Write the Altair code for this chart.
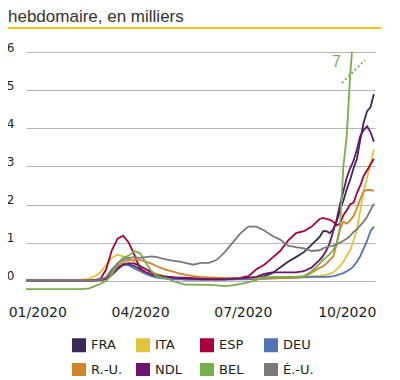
import altair as alt
import pandas as pd

title_text = "hebdomaire, en milliers"
countries = ["FRA", "ITA", "ESP", "DEU", "R.-U.", "NDL", "BEL", "É.-U."]
colors = ["#3a2858", "#e0c53c", "#a8003c", "#5274b4", "#d0852a", "#6a1570", "#78ae4c", "#7a7a7a"]

# day offsets from 2020-01-01
day_offsets = [-10, -3, 4, 11, 18, 25, 32, 39,
               46, 51, 56, 61, 66, 71, 76, 81, 86, 91, 96, 101, 106, 111, 116, 121, 126, 131,
               138, 145, 152, 159, 166, 173, 180, 187, 194, 201, 208, 215, 222, 229, 236, 243, 250,
               253, 256, 259, 262, 265, 268, 271, 274, 277, 280, 283, 286, 289, 292, 295, 298]

fra = [0, 0, 0, 0, 0, 0, 0, 0,
       0, 0.01, 0.02, 0.06, 0.2, 0.35, 0.42, 0.43, 0.38, 0.3, 0.22, 0.15, 0.1, 0.08, 0.06, 0.05, 0.05, 0.04,
       0.04, 0.04, 0.04, 0.04, 0.04, 0.05, 0.05, 0.06, 0.08, 0.12, 0.2, 0.35, 0.5, 0.62, 0.75, 0.95, 1.15,
       1.3, 1.3, 1.25, 1.35, 1.55, 1.85, 2.1, 2.4, 2.65, 2.95, 3.2, 3.7, 4.15, 4.45, 4.55, 4.9]
ita = [0, 0, 0, 0, 0, 0, 0, 0.02,
       0.05, 0.12, 0.22, 0.42, 0.6, 0.68, 0.64, 0.58, 0.5, 0.4, 0.32, 0.24, 0.18, 0.14, 0.1, 0.08, 0.07, 0.06,
       0.05, 0.04, 0.04, 0.04, 0.04, 0.05, 0.06, 0.07, 0.08, 0.08, 0.09, 0.1, 0.1, 0.1, 0.11, 0.12, 0.13,
       0.14, 0.16, 0.18, 0.22, 0.3, 0.38, 0.5, 0.65, 0.8, 1.05, 1.35, 1.85, 2.35, 2.7, 3.05, 3.45]
esp = [0, 0, 0, 0, 0, 0, 0, 0,
       0, 0.02, 0.05, 0.3, 0.8, 1.1, 1.18, 1.0, 0.68, 0.32, 0.22, 0.16, 0.12, 0.1, 0.1, 0.09, 0.08, 0.08,
       0.07, 0.06, 0.06, 0.06, 0.06, 0.07, 0.08, 0.12, 0.3, 0.42, 0.6, 0.78, 1.05, 1.25, 1.3, 1.42, 1.62,
       1.65, 1.62, 1.6, 1.55, 1.45, 1.5, 1.72, 1.85, 2.0, 2.05, 2.3, 2.5, 2.75, 2.9, 3.05, 3.2]
deu = [0, 0, 0, 0, 0, 0, 0, 0,
       0, 0.01, 0.03, 0.08, 0.25, 0.4, 0.45, 0.4, 0.32, 0.25, 0.18, 0.12, 0.08, 0.06, 0.05, 0.04, 0.04, 0.03,
       0.03, 0.03, 0.03, 0.03, 0.03, 0.03, 0.04, 0.04, 0.05, 0.05, 0.06, 0.07, 0.07, 0.08, 0.09, 0.1, 0.1,
       0.1, 0.1, 0.11, 0.12, 0.14, 0.17, 0.2, 0.25, 0.3, 0.38, 0.5, 0.65, 0.85, 1.05, 1.3, 1.42]
gbr = [0, 0, 0, 0, 0, 0, 0, 0,
       0, 0.01, 0.02, 0.05, 0.2, 0.38, 0.48, 0.54, 0.55, 0.55, 0.5, 0.45, 0.38, 0.32, 0.27, 0.23, 0.19, 0.16,
       0.12, 0.1, 0.09, 0.08, 0.07, 0.07, 0.07, 0.07, 0.07, 0.07, 0.06, 0.07, 0.07, 0.08, 0.1, 0.22, 0.34,
       0.38, 0.45, 0.55, 0.63, 0.95, 1.35, 1.55, 1.5, 1.58, 1.7, 1.9, 2.15, 2.35, 2.38, 2.38, 2.36]
ndl = [0, 0, 0, 0, 0, 0, 0, 0,
       0, 0.01, 0.02, 0.05, 0.15, 0.3, 0.42, 0.46, 0.45, 0.38, 0.3, 0.22, 0.15, 0.12, 0.1, 0.08, 0.07, 0.06,
       0.05, 0.04, 0.04, 0.04, 0.04, 0.05, 0.06, 0.08, 0.1, 0.18, 0.22, 0.22, 0.22, 0.22, 0.25, 0.35, 0.55,
       0.65, 0.8, 1.0, 1.3, 1.6, 2.0, 2.35, 2.7, 2.95, 3.15, 3.45, 3.8, 3.95, 4.05, 3.9, 3.65]
bel = [-0.22, -0.22, -0.22, -0.22, -0.22, -0.22, -0.22, -0.22,
       -0.2, -0.14, -0.08, 0.0, 0.15, 0.45, 0.6, 0.66, 0.78, 0.72, 0.48, 0.25, 0.12, 0.08, 0.05, -0.02, -0.06, -0.1,
       -0.1, -0.11, -0.11, -0.12, -0.14, -0.12, -0.08, -0.04, 0.02, 0.08, 0.1, 0.1, 0.1, 0.1, 0.12, 0.25, 0.45,
       0.55, 0.62, 0.7, 0.8, 1.0, 1.4, 3.0, 3.8, 5.4, 6.5, 7.0, 7.0, 7.0, 7.0, 7.0, 7.0]
usa = [0, 0, 0, 0, 0, 0, 0, 0,
       0, 0, 0.02, 0.1, 0.3, 0.45, 0.55, 0.6, 0.62, 0.6, 0.62, 0.64, 0.62, 0.58, 0.55, 0.52, 0.5, 0.47,
       0.42, 0.47, 0.47, 0.55, 0.75, 1.0, 1.25, 1.42, 1.42, 1.32, 1.18, 1.08, 0.92, 0.88, 0.85, 0.78, 0.8,
       0.85, 0.88, 0.9, 0.92, 0.95, 1.0, 1.05, 1.1, 1.18, 1.28, 1.35, 1.45, 1.55, 1.68, 1.85, 2.02]

y_ticks = [0, 1, 2, 3, 4, 5, 6]
x_tick_months = [1, 4, 7, 10]
break_label = "7"

series = [fra, ita, esp, deu, gbr, ndl, bel, usa]
base = pd.Timestamp("2020-01-01")
dates = [base + pd.Timedelta(days=d) for d in day_offsets]
rows = []
for name, vals in zip(countries, series):
    for dt, v in zip(dates, vals):
        rows.append({"date": dt, "pays": name, "valeur": v})
df = pd.DataFrame(rows)

lines = alt.Chart(df).mark_line(clip=True, strokeWidth=1.8).encode(
    x=alt.X("date:T",
            scale=alt.Scale(domain=[alt.DateTime(year=2019, month=12, date=22),
                                    alt.DateTime(year=2020, month=10, date=26)]),
            axis=alt.Axis(title=None, values=[alt.DateTime(year=2020, month=m, date=1) for m in x_tick_months],
                          format="%m/%Y", ticks=False, domain=False, grid=False, labelFlush=False,
                          labelFont="DejaVu Sans", labelFontSize=14, labelColor="#222",
                          labelPadding=9)),
    y=alt.Y("valeur:Q",
            scale=alt.Scale(domain=[-0.4, 6], nice=False, zero=False),
            axis=alt.Axis(title=None, values=y_ticks, format="d", ticks=False, domain=False,
                          grid=True, gridColor="#b4b4b4", gridWidth=1,
                          labelFont="DejaVu Sans", labelFontSize=12, labelColor="#222",
                          labelAlign="right", labelBaseline="alphabetic", labelPadding=12,
                          labelOffset=-1)),
    color=alt.Color("pays:N", sort=countries,
                    scale=alt.Scale(domain=countries, range=colors),
                    legend=alt.Legend(title=None, orient="none", legendX=46, legendY=286,
                                      direction="horizontal",
                                      columns=4, gridAlign="all", symbolType="square",
                                      symbolSize=49, symbolStrokeWidth=7, symbolOpacity=1,
                                      labelFont="DejaVu Sans", labelFontSize=13, labelColor="#222",
                                      labelOffset=5, columnPadding=2, rowPadding=-13, padding=0)),
)

one = pd.DataFrame({"t": [title_text]})
title = alt.Chart(one).mark_text(align="left", baseline="alphabetic", font="Liberation Sans",
                                 fontSize=17, color="#333").encode(
    text="t:N", x=alt.value(-18), y=alt.value(-30))

rule = alt.Chart(one).mark_rule(color="#e8c51a", strokeWidth=2).encode(
    x=alt.value(-18), x2=alt.value(355), y=alt.value(-24))

lbl = pd.DataFrame({"t": [break_label]})
seven = alt.Chart(lbl).mark_text(align="left", baseline="alphabetic", font="Liberation Sans",
                                 fontSize=16, color="#7cb24f").encode(
    text="t:N", x=alt.value(306), y=alt.value(15))

dots = alt.Chart(lbl).mark_rule(color="#7cb24f", strokeWidth=2, strokeDash=[2, 2.5]).encode(
    x=alt.value(316), x2=alt.value(339), y=alt.value(31), y2=alt.value(8))

chart = alt.layer(lines, title, rule, seven, dots).properties(
    width=349, height=244,
    autosize=alt.AutoSizeParams(type="none"),
    padding={"left": 18, "top": 44, "right": 10, "bottom": 80},
).configure_view(stroke=None)

chart.save("out.html", embed_options={"renderer": "svg", "actions": False})
